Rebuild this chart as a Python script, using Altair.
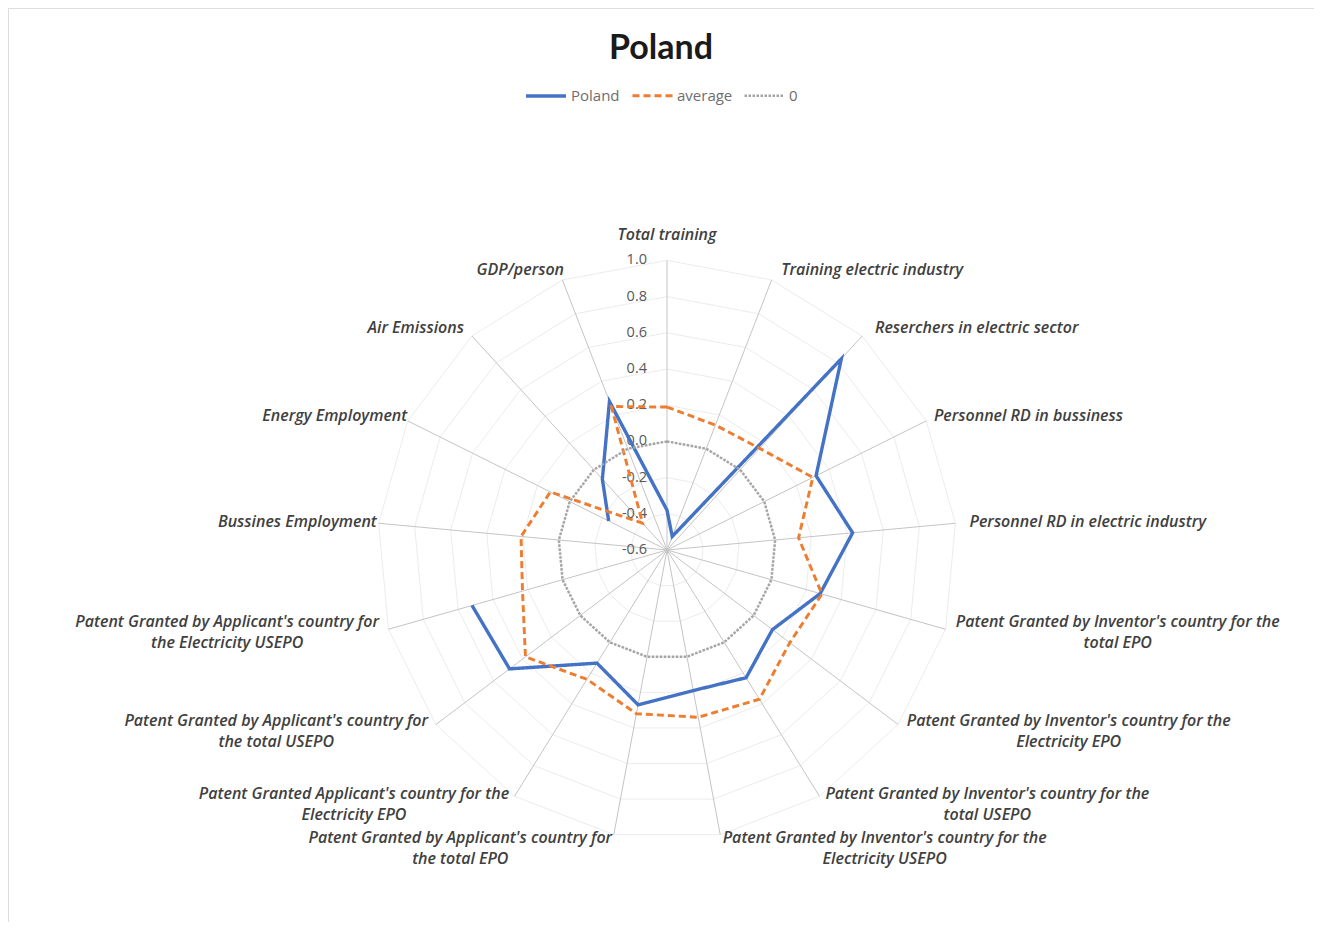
import math
import altair as alt
import pandas as pd

# ---------------- data ----------------
categories = [
    "Total training",
    "Training electric industry",
    "Reserchers in electric sector",
    "Personnel RD in bussiness",
    "Personnel RD in electric industry",
    "Patent Granted by Inventor's country for the\ntotal EPO",
    "Patent Granted by Inventor's country for the\nElectricity EPO",
    "Patent Granted by Inventor's country for the\ntotal USEPO",
    "Patent Granted by Inventor's country for the\nElectricity USEPO",
    "Patent Granted by Applicant's country for\nthe total EPO",
    "Patent Granted Applicant's country for the\nElectricity EPO",
    "Patent Granted by Applicant's country for\nthe total USEPO",
    "Patent Granted by Applicant's country for\nthe Electricity USEPO",
    "Bussines Employment",
    "Energy Employment",
    "Air Emissions",
    "GDP/person",
]
poland = [-0.38, -0.52, 0.83, 0.32, 0.43, 0.28, 0.13, 0.23, 0.19, 0.27, 0.135,
          0.49, 0.52, None, -0.24, -0.07, 0.28]
average = [0.19, 0.14, 0.16, 0.30, 0.13, 0.29, 0.25, 0.37, 0.34, 0.32, 0.24,
           0.38, 0.23, 0.21, 0.12, -0.40, 0.25]
zero_series = [0.0] * 17
tick_values = [-0.6, -0.4, -0.2, 0.0, 0.2, 0.4, 0.6, 0.8, 1.0]
tick_labels = ["-0.6", "-0.4", "-0.2", "0.0", "0.2", "0.4", "0.6", "0.8", "1.0"]
series_names = ["Poland", "average", "0"]
series_colors = ["#4472C4", "#ED7D31", "#A5A5A5"]
series_dash = [[1, 0], [7, 4], [2.5, 1.5]]
series_width = [3.4, 2.5, 1.8]

# ---------------- geometry helpers ----------------
AXIS_MIN, AXIS_MAX = tick_values[0], tick_values[-1]
N = len(categories)
UNIT = 181.0           # px per value unit
W, H = 1306, 914       # plot area (whole chart)
CX, CY = 659, 542      # centre inside plot area
XDOM = [-CX / UNIT, (W - CX) / UNIT]
YDOM = [-(H - CY) / UNIT, CY / UNIT]
CHAR_W = 7.3
LINE_H = 21
FONT = "Open Sans"


def polar(v, i):
    a = 2 * math.pi * i / N
    r = v - AXIS_MIN
    return r * math.sin(a), r * math.cos(a)


def series_rows(name, values):
    rows = []
    if all(v is not None for v in values):
        idx = list(range(N)) + [0]
        for k, i in enumerate(idx):
            x, y = polar(values[i], i)
            rows.append(dict(series=name, seg=name + "0", ord=k, x=x, y=y))
        return rows
    start = next(i for i in range(N) if values[i] is None)
    seg, k = 0, 0
    for step in range(1, N + 1):
        i = (start + step) % N
        if values[i] is None:
            seg += 1
            continue
        x, y = polar(values[i], i)
        rows.append(dict(series=name, seg=f"{name}{seg}", ord=k, x=x, y=y))
        k += 1
    return rows


rows = []
for name, vals in zip(series_names, [poland, average, zero_series]):
    rows += series_rows(name, vals)
series_df = pd.DataFrame(rows)

grid_rows = []
for t in tick_values[1:]:
    for k, i in enumerate(list(range(N)) + [0]):
        x, y = polar(t, i)
        grid_rows.append(dict(ring=str(t), ord=k, x=x, y=y))
grid_df = pd.DataFrame(grid_rows)

spoke_rows = []
for i in range(N):
    x2, y2 = polar(AXIS_MAX, i)
    spoke_rows.append(dict(x=0.0, y=0.0, x2=x2, y2=y2))
spoke_df = pd.DataFrame(spoke_rows)

label_rows = []
for i, cat in enumerate(categories):
    a = 2 * math.pi * i / N
    s, c = math.sin(a), math.cos(a)
    ex, ey = polar(AXIS_MAX, i)
    parts = cat.split("\n")
    wpx = max(len(l) for l in parts) * CHAR_W
    if abs(s) < 0.05:
        lx, ly = ex, ey + 25 / UNIT
    else:
        sign = 1 if s > 0 else -1
        lx = ex + sign * (10 * abs(s) + 2 + wpx / 2) / UNIT
        vgap = 11 * c - (3 if c < -0.95 else 0) + (1 if -0.95 <= c < -0.8 else 0)
        ly = ey + vgap / UNIT
    # first line is drawn at the anchor: shift so the block is centred
    ly += (len(parts) - 1) * LINE_H / 2 / UNIT
    label_rows.append(dict(label=cat, x=lx, y=ly))
label_df = pd.DataFrame(label_rows)

tick_df = pd.DataFrame(
    {"x": [0.0] * len(tick_values),
     "y": [t - AXIS_MIN for t in tick_values],
     "label": tick_labels}
)

# ---------------- chart ----------------
xs = alt.Scale(domain=XDOM, nice=False, zero=False)
ys = alt.Scale(domain=YDOM, nice=False, zero=False)
X = alt.X("x:Q", scale=xs, axis=None)
Y = alt.Y("y:Q", scale=ys, axis=None)

grid = alt.Chart(grid_df).mark_line(color="#ececec", strokeWidth=1).encode(
    x=X, y=Y, detail="ring:N", order="ord:Q")

spokes = alt.Chart(spoke_df).mark_rule(color="#c4c4c4", strokeWidth=1).encode(
    x=X, y=Y, x2="x2:Q", y2="y2:Q")

ticks = alt.Chart(tick_df).mark_text(
    align="right", baseline="middle", dx=-20, font=FONT, fontSize=14.5,
    color="#595959").encode(x=X, y=Y, text="label:N")

leg = alt.Legend(title=None, orient="none", legendX=516, legendY=66,
                 direction="horizontal", symbolType="stroke", symbolSize=1600,
                 labelFont=FONT, labelFontSize=15, labelColor="#6e6e6e",
                 labelOffset=3, columnPadding=6)

lines = alt.Chart(series_df).mark_line(strokeCap="butt", strokeJoin="miter").encode(
    x=X, y=Y, detail="seg:N", order="ord:Q",
    color=alt.Color("series:N", scale=alt.Scale(domain=series_names, range=series_colors),
                    legend=leg, sort=series_names),
    strokeDash=alt.StrokeDash("series:N", scale=alt.Scale(domain=series_names, range=series_dash),
                              legend=leg, sort=series_names),
    strokeWidth=alt.StrokeWidth("series:N", scale=alt.Scale(domain=series_names, range=series_width),
                                legend=leg, sort=series_names),
)

cat_labels = alt.Chart(label_df).mark_text(
    align="center", baseline="middle", lineBreak="\n", lineHeight=LINE_H,
    font=FONT, fontSize=16, fontWeight=600, fontStyle="italic", color="#404040").encode(
    x=X, y=Y, text="label:N")

chart = alt.layer(grid, spokes, ticks, lines, cat_labels).properties(
    width=W, height=H, padding=0,
    autosize=alt.AutoSizeParams(type="none"),
    title=alt.TitleParams("Poland", font="Lato", fontSize=34, fontWeight="bold",
                          color="#1a1a1a", anchor="middle", offset=-58, frame="group"),
).configure_view(stroke="#d9d9d9", strokeWidth=1).configure(background="white")

chart.save("out.html", embed_options={"renderer": "svg", "actions": False})
